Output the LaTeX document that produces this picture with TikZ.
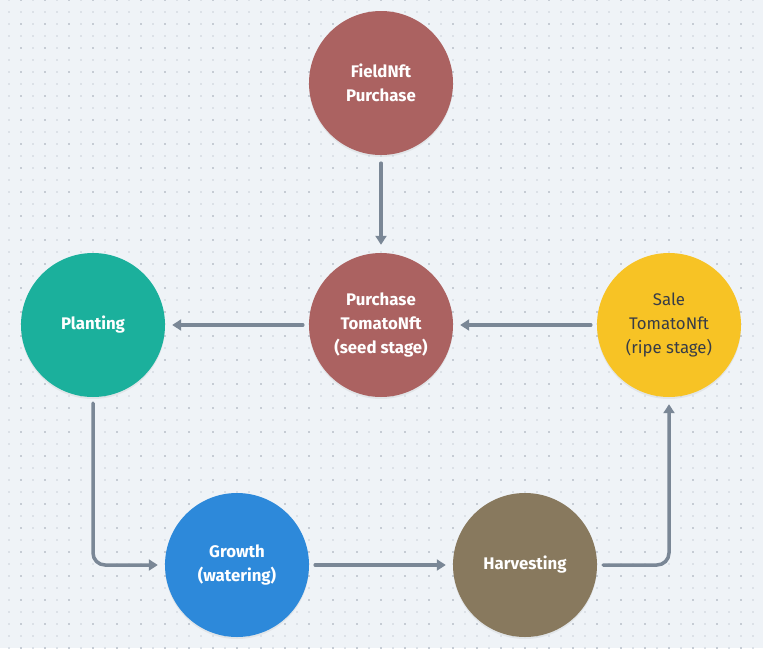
\documentclass[tikz,border=0pt]{standalone}
\usepackage{fontspec}
\setmainfont{Fira Sans}
\usetikzlibrary{arrows.meta,shadows}
\definecolor{bgc}{HTML}{EFF3F7}
\definecolor{dotl}{HTML}{DCE1E7}
\definecolor{dotd}{HTML}{C6CCD4}
\definecolor{redc}{HTML}{AB6261}
\definecolor{tealc}{HTML}{1BB09C}
\definecolor{yelc}{HTML}{F7C325}
\definecolor{bluec}{HTML}{2D89DA}
\definecolor{brownc}{HTML}{88795E}
\definecolor{arrc}{HTML}{7A8796}
\definecolor{darktxt}{HTML}{373C47}
\tikzset{
  stagenode/.style={circle, minimum size=144pt, inner sep=0pt, align=center,
    font=\bfseries\fontsize{16.8}{24}\selectfont, text=white,
    drop shadow={opacity=0.12, shadow xshift=0pt, shadow yshift=-2pt}},
  flowarrow/.style={draw=arrc, line width=3.5pt, line cap=round,
    -{Triangle[length=9pt,width=11pt]}, shorten <=6pt, shorten >=7pt}
}
\begin{document}
\begin{tikzpicture}[x=1pt,y=-1pt]
\fill[bgc] (0,0) rectangle (763,648);
\useasboundingbox (0,0) rectangle (763,648);
\foreach \i in {0,...,63}{
  \foreach \j in {0,...,54}{
    \fill[dotl] (8+12*\i, 12*\j-1) rectangle ++(2,2);
  }
}
\foreach \i in {0,...,31}{
  \foreach \j in {0,...,27}{
    \fill[dotd] (20+24*\i, 24*\j-1) rectangle ++(2,2);
  }
}
\node[stagenode, fill=redc] (field) at (381,83) {FieldNft\\Purchase};
\node[stagenode, fill=redc] (purch) at (381,325) {Purchase\\TomatoNft\\(seed stage)};
\node[stagenode, fill=tealc] (plant) at (93,325) {Planting};
\node[stagenode, fill=yelc, text=darktxt, font=\fontsize{16.8}{24}\selectfont] (sale) at (669,325) {Sale\\TomatoNft\\(ripe stage)};
\node[stagenode, fill=bluec] (growth) at (237,565) {Growth\\(watering)};
\node[stagenode, fill=brownc] (harv) at (525,565) {Harvesting};

\draw[flowarrow, shorten <=8pt, shorten >=8pt] (field) -- (purch);
\draw[flowarrow] (purch) -- (plant);
\draw[flowarrow] (sale) -- (purch);
\draw[flowarrow] (growth) -- (harv);
\draw[flowarrow, rounded corners=12pt] (plant.south) |- (growth.west);
\draw[flowarrow, rounded corners=12pt] (harv.east) -| (sale.south);
\end{tikzpicture}
\end{document}
